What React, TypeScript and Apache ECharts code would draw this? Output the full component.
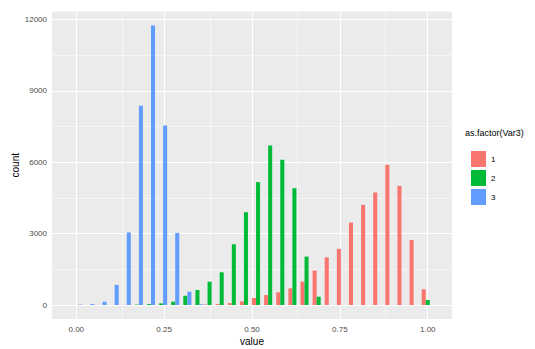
import React, { useEffect, useRef } from "react";
import * as echarts from "echarts";

// 30 histogram bins, centres at k / 29 (k = 0..29)
const BIN_COUNT = 30;
const BIN_WIDTH = 1 / 29;
const groupNames = ["1", "2", "3"];
const groupColors = ["#F8766D", "#00BA38", "#619CFF"];

const counts1 = [0, 0, 0, 0, 0, 0, 0, 0, 0, 0, 0, 20, 40, 80, 150, 290, 420, 535, 700, 980, 1450, 2005, 2360, 3465, 4210, 4730, 5895, 5010, 2735, 660];
const counts2 = [0, 0, 0, 0, 0, 20, 40, 70, 140, 390, 630, 980, 1375, 2555, 3900, 5165, 6710, 6105, 4910, 2035, 350, 0, 0, 0, 0, 0, 0, 0, 0, 210];
const counts3 = [20, 40, 140, 845, 3050, 8380, 11750, 7550, 3030, 560, 30, 0, 0, 0, 0, 0, 0, 0, 0, 0, 0, 0, 0, 0, 0, 0, 0, 0, 0, 0];
const allCounts = [counts1, counts2, counts3];

const xTicks = [0, 0.25, 0.5, 0.75, 1];
const xMinor = [0.125, 0.375, 0.625, 0.875];
const yTicks = [0, 3000, 6000, 9000, 12000];
const yMinor = [1500, 4500, 7500, 10500];

export default function App() {
  const ref = useRef<HTMLDivElement>(null);
  useEffect(() => {
    if (!ref.current) return;
    const chart = echarts.init(ref.current, undefined, { renderer: "svg" });

    const barSeries = allCounts.map((counts, g) => ({
      name: groupNames[g],
      type: "custom",
      z: 3,
      itemStyle: { color: groupColors[g] },
      encode: { x: [0, 1], y: 2 },
      data: counts.slice(0, BIN_COUNT).map((c, k) => {
        const left = (k - 0.5) * BIN_WIDTH + (g * BIN_WIDTH) / 3;
        return [left, left + BIN_WIDTH / 3, c];
      }),
      renderItem: (params: any, api: any) => {
        const p0 = api.coord([api.value(0), api.value(2)]);
        const p1 = api.coord([api.value(1), 0]);
        return {
          type: "rect",
          shape: { x: p0[0], y: p0[1], width: p1[0] - p0[0], height: p1[1] - p0[1] },
          style: { fill: groupColors[g] },
        };
      },
    }));

    const gridLines = [
      ...xTicks.map((v) => ({ xAxis: v, lineStyle: { width: 1.1 } })),
      ...xMinor.map((v) => ({ xAxis: v, lineStyle: { width: 0.5 } })),
      ...yTicks.map((v) => ({ yAxis: v, lineStyle: { width: 1.1 } })),
      ...yMinor.map((v) => ({ yAxis: v, lineStyle: { width: 0.5 } })),
    ];

    chart.setOption({
      animation: false,
      backgroundColor: "#ffffff",
      grid: {
        left: 52,
        right: 83,
        top: 11.5,
        bottom: 30,
        containLabel: false,
        outerBoundsMode: "none",
        show: true,
        backgroundColor: "#EBEBEB",
        borderWidth: 0,
      },
      xAxis: {
        type: "value",
        min: -0.069,
        max: 1.069,
        name: "value",
        nameLocation: "middle",
        nameGap: 17.5,
        nameMoveOverlap: false,
        nameTextStyle: { color: "#000", fontSize: 10, fontFamily: "Liberation Sans" },
        axisLine: { show: false },
        axisTick: { show: true, length: 3, lineStyle: { color: "#333" }, customValues: xTicks },
        axisLabel: {
          customValues: xTicks,
          color: "#4D4D4D",
          fontSize: 8,
          margin: 6,
          fontFamily: "Liberation Sans",
          formatter: (v: number) => v.toFixed(2),
        },
        splitLine: { show: false },
      },
      yAxis: {
        type: "value",
        min: -587.5,
        max: 12337.5,
        name: "count",
        nameLocation: "middle",
        nameGap: 32,
        nameMoveOverlap: false,
        nameTextStyle: { color: "#000", fontSize: 10, fontFamily: "Liberation Sans" },
        axisLine: { show: false },
        axisTick: { show: true, length: 3, lineStyle: { color: "#333" }, customValues: yTicks },
        axisLabel: {
          customValues: yTicks,
          color: "#4D4D4D",
          fontSize: 8,
          margin: 5,
          fontFamily: "Liberation Sans",
          formatter: (v: number) => String(v),
        },
        splitLine: { show: false },
      },
      legend: {
        data: groupNames,
        orient: "vertical",
        left: 466,
        top: 146,
        itemWidth: 15,
        itemHeight: 16,
        itemGap: 3,
        icon: "rect",
        textStyle: { color: "#000", fontSize: 8, fontFamily: "Liberation Sans" },
      },
      graphic: [
        {
          type: "text",
          left: 465,
          top: 128,
          style: { text: "as.factor(Var3)", fill: "#000", fontSize: 9, fontFamily: "Liberation Sans" },
        },
      ],
      series: [
        {
          name: "grid",
          type: "line",
          data: [],
          z: 1,
          silent: true,
          markLine: {
            z: 1,
            silent: true,
            symbol: ["none", "none"],
            label: { show: false },
            lineStyle: { color: "#ffffff", type: "solid" },
            emphasis: { disabled: true },
            data: gridLines,
          },
        },
        ...barSeries,
      ],
    });
    return () => chart.dispose();
  }, []);
  return (
    <div
      ref={ref}
      style={{ position: "fixed", left: 0, top: 0, width: 535, height: 349, overflow: "hidden" }}
    />
  );
}
